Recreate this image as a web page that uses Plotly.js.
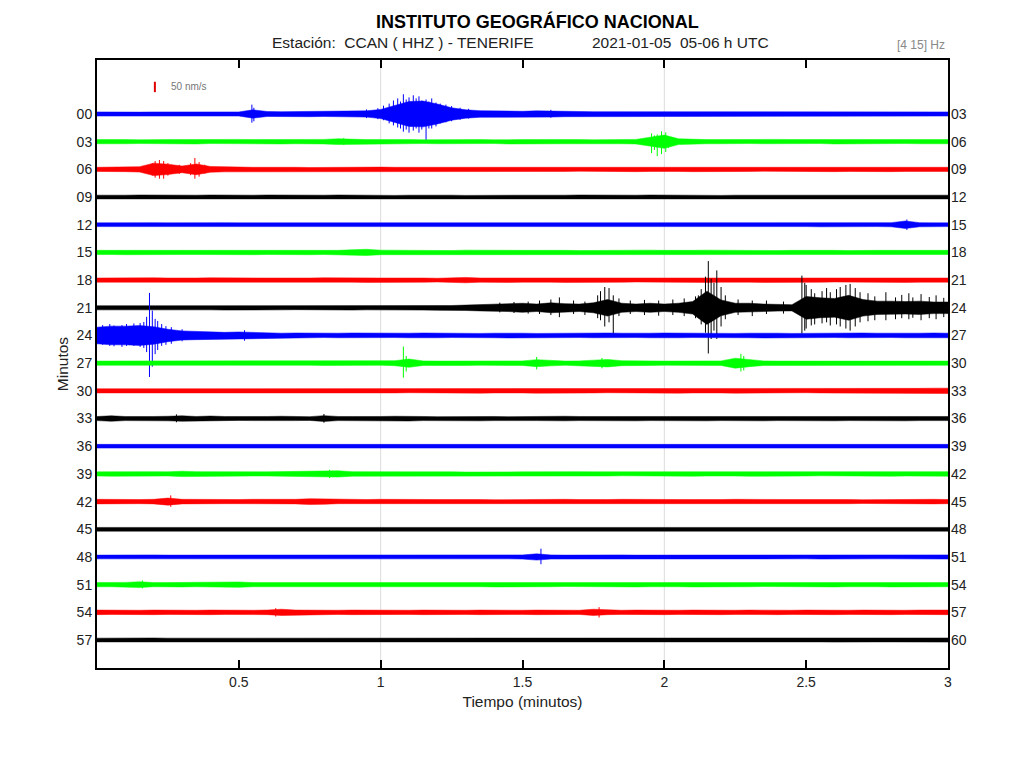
<!DOCTYPE html>
<html><head><meta charset="utf-8">
<script src="https://cdn.plot.ly/plotly-3.0.1.min.js"></script>
<style>html,body{margin:0;padding:0;background:#fff}#chart{width:1025px;height:768px}</style>
</head><body><div id="chart"></div>
<script>
// ---- data ----
const times = [0,0.05,0.1,0.15,0.2,0.25,0.3,0.35,0.4,0.45,0.5,0.55,0.6,0.65,0.7,0.75,0.8,0.85,0.9,0.95,1,1.05,1.1,1.15,1.2,1.25,1.3,1.35,1.4,1.45,1.5,1.55,1.6,1.65,1.7,1.75,1.8,1.85,1.9,1.95,2,2.05,2.1,2.15,2.2,2.25,2.3,2.35,2.4,2.45,2.5,2.55,2.6,2.65,2.7,2.75,2.8,2.85,2.9,2.95,3];
const rowMinutes = [0,3,6,9,12,15,18,21,24,27,30,33,36,39,42,45,48,51,54,57];
const leftLabels = ["00","03","06","09","12","15","18","21","24","27","30","33","36","39","42","45","48","51","54","57"];
const rightLabels = ["03","06","09","12","15","18","21","24","27","30","33","36","39","42","45","48","51","54","57","60"];
const xTicks = [0.5,1,1.5,2,2.5,3];
const xTickText = ["0.5","1","1.5","2","2.5","3"];
const minuteMarks = [1,2];
const scaleBarNms = 50;

// half-amplitude envelope per row (nm/s), one value per entry of times
const amp00 = [10,9,10,9,10,10,9,10,10,10,10,20,12,11,12,13,12,13,13,15,22,40,60,62,48,30,20,16,14,13,13,15,15,13,12,11,11,10,11,10,11,10,10,11,10,10,10,11,10,10,10,10,10,10,11,10,10,10,10,10,10];
const amp03 = [10,11,10,9,11,10,10,11,9,10,11,10,10,11,10,9,11,14,11,10,10,11,10,9,10,11,10,10,9,11,10,10,11,10,10,9,11,10,11,20,32,14,11,10,10,11,9,10,11,10,10,9,11,10,10,11,10,9,10,11,10];
const amp06 = [10,10,11,13,30,25,16,26,14,12,11,10,10,11,10,9,10,11,10,10,11,10,10,9,11,10,10,11,10,9,10,11,10,10,9,11,10,10,11,10,9,10,11,10,10,11,10,9,10,11,10,10,11,10,9,10,11,10,10,9,10];
const amp09 = [9,8,9,10,9,8,9,9,10,9,8,9,10,9,9,8,9,10,9,9,9,8,9,10,9,9,8,9,9,10,9,9,8,9,10,9,9,8,9,10,9,9,10,9,8,9,9,10,9,9,8,9,9,10,9,9,8,9,10,9,9];
const amp12 = [9,10,9,9,10,9,10,9,9,10,9,9,10,9,10,9,9,10,9,9,10,9,9,10,9,9,10,9,10,9,9,10,9,9,10,9,9,10,9,9,10,9,9,10,9,10,9,9,10,9,9,10,9,9,10,9,10,18,10,9,9];
const amp15 = [10,10,11,10,9,11,10,10,11,10,10,11,10,9,10,11,10,10,13,15,11,10,10,11,10,9,11,10,10,11,10,10,11,10,9,10,11,10,10,11,10,9,10,11,10,10,11,10,9,10,11,10,10,9,11,10,10,11,10,10,10];
const amp18 = [10,11,10,10,11,10,9,10,11,10,10,11,10,10,9,10,11,10,10,11,10,10,11,10,9,10,13,10,10,11,10,9,10,11,10,10,11,10,9,10,11,10,10,11,10,9,10,11,10,10,11,10,9,10,11,10,10,11,10,9,10];
const amp21 = [10,10,11,10,9,10,11,10,10,11,10,10,11,10,9,11,10,10,11,10,10,11,10,11,12,11,13,15,18,18,22,18,24,20,18,24,40,22,18,22,18,22,30,80,38,22,22,18,16,15,55,48,45,60,40,32,32,30,32,28,28];
const amp24 = [40,45,45,48,42,30,22,20,17,15,17,14,12,11,12,11,10,11,12,11,11,10,11,12,11,10,11,10,11,12,11,10,11,11,10,11,12,11,10,11,12,11,10,11,11,10,11,12,11,10,11,11,10,11,12,11,10,11,11,12,11];
const amp27 = [10,10,11,10,9,10,11,10,10,11,10,9,10,11,10,10,11,10,10,11,10,12,20,11,10,10,11,10,9,10,11,17,13,10,11,15,18,12,10,11,10,10,11,10,11,24,17,11,10,10,11,10,9,10,11,10,10,11,10,10,10];
const amp30 = [10,10,11,10,10,11,10,9,10,11,10,10,11,10,9,10,11,10,10,11,10,10,9,10,11,10,10,11,10,9,10,11,10,10,11,10,9,10,11,10,10,11,10,9,10,11,10,10,11,10,9,10,11,10,10,11,10,11,12,13,13];
const amp33 = [10,13,10,9,10,11,13,10,12,10,9,10,10,11,10,9,14,10,10,9,10,11,12,10,9,10,10,11,10,9,10,10,9,11,10,10,9,10,11,10,9,10,10,11,10,9,10,11,10,10,9,10,11,10,10,9,10,11,10,9,10];
const amp36 = [9,9,10,9,9,10,9,9,10,9,10,9,9,10,9,9,10,9,10,9,9,10,9,9,10,9,9,10,9,9,10,9,9,10,9,10,9,9,10,9,9,10,9,9,10,9,10,9,9,10,9,9,10,9,9,10,9,9,10,9,9];
const amp39 = [10,11,10,10,11,10,13,11,10,10,11,10,10,11,10,10,14,15,11,10,10,11,10,10,11,10,9,10,11,10,10,10,11,10,11,10,10,9,10,11,10,10,11,10,9,10,11,10,10,11,10,9,10,11,10,10,11,10,9,10,11];
const amp42 = [11,10,11,10,11,17,11,10,11,10,10,11,10,10,11,14,13,10,11,10,11,10,10,11,10,10,11,10,9,10,11,10,10,11,10,9,10,11,10,10,11,10,10,9,10,11,10,10,11,10,10,11,10,10,9,10,11,10,10,11,10];
const amp45 = [9,9,8,9,10,9,9,8,9,9,10,9,9,8,9,9,10,9,9,8,9,9,10,9,9,8,9,9,10,9,9,8,9,9,10,9,9,8,9,9,10,9,9,8,9,9,10,9,9,8,9,9,10,9,9,8,9,9,10,9,9];
const amp48 = [9,10,9,9,10,9,9,10,9,9,10,9,9,10,9,9,10,9,10,9,9,10,9,9,10,9,9,10,9,9,10,15,10,9,10,9,9,10,9,9,10,9,9,10,9,10,9,9,10,9,9,10,9,9,10,9,9,10,9,9,10];
const amp51 = [10,10,11,14,10,10,11,10,10,11,13,10,10,11,10,9,10,11,10,10,11,10,10,9,10,11,10,10,11,10,10,11,10,9,10,11,10,10,11,10,9,10,11,10,10,11,10,9,10,11,10,10,11,10,9,10,11,10,10,11,10];
const amp54 = [11,10,11,10,11,10,11,10,11,10,11,10,11,15,11,10,11,10,11,10,10,11,10,11,10,11,10,11,10,11,10,11,10,11,10,15,11,10,11,10,11,10,11,10,11,10,11,10,11,10,11,10,11,10,11,10,11,10,11,10,11];
const amp57 = [9,10,9,9,10,9,9,10,9,9,10,9,9,10,9,10,9,9,10,9,9,10,9,9,10,9,10,9,9,10,9,9,10,9,9,10,9,9,10,9,9,10,9,10,9,9,10,9,9,10,9,9,10,9,10,9,9,10,9,9,10];

// sharp peaks: [row index, time (min), up (nm/s), down (nm/s)]
const spikes = [
 [0,0.546,45,42],[0,0.553,30,35],[0,0.95,22,20],[0,0.99,28,25],[0,1.01,40,30],[0,1.03,50,45],[0,1.045,65,55],[0,1.06,75,65],[0,1.07,60,70],[0,1.08,95,85],[0,1.09,70,75],[0,1.10,80,90],[0,1.115,90,80],[0,1.125,75,70],[0,1.135,85,90],[0,1.145,65,75],[0,1.16,70,130],[0,1.17,60,70],[0,1.18,75,70],[0,1.195,55,60],[0,1.21,50,45],[0,1.23,45,40],[0,1.25,38,35],[0,1.28,30,28],[0,1.31,25,22],[0,1.6,20,18],
 [1,0.87,18,16],[1,1.955,40,55],[1,1.965,30,40],[1,1.975,35,70],[1,1.99,50,60],[1,2.005,45,50],[1,2.015,25,30],
 [2,0.195,30,30],[2,0.205,40,40],[2,0.22,45,45],[2,0.235,40,45],[2,0.25,30,30],[2,0.29,22,22],[2,0.33,30,28],[2,0.345,55,45],[2,0.36,35,35],[2,0.38,22,20],
 [4,2.855,25,25],
 [7,1.42,25,22],[7,1.47,28,25],[7,1.52,30,28],[7,1.56,35,30],[7,1.6,40,35],[7,1.63,50,45],[7,1.68,35,30],[7,1.72,30,35],
 [7,1.765,60,50],[7,1.775,80,60],[7,1.79,100,90],[7,1.805,95,70],[7,1.82,60,125],[7,1.84,45,40],
 [7,1.88,35,30],[7,1.93,38,35],[7,1.98,35,38],[7,2.03,40,35],[7,2.07,45,40],
 [7,2.11,55,50],[7,2.12,60,50],[7,2.13,90,80],[7,2.145,150,120],[7,2.155,225,220],[7,2.165,140,150],[7,2.175,120,110],[7,2.185,180,150],[7,2.2,100,90],[7,2.215,60,55],
 [7,2.26,40,35],[7,2.31,35,40],[7,2.36,35,30],[7,2.42,30,28],
 [7,2.485,155,125],[7,2.495,120,110],[7,2.5,110,100],[7,2.518,90,85],[7,2.53,70,80],[7,2.556,80,75],[7,2.572,95,70],[7,2.585,75,85],[7,2.607,90,80],[7,2.62,100,90],[7,2.64,110,100],[7,2.655,115,110],[7,2.673,95,90],[7,2.69,75,70],
 [7,2.718,70,65],[7,2.742,55,60],[7,2.781,75,60],[7,2.815,50,55],[7,2.837,62,50],[7,2.862,70,55],[7,2.876,50,48],[7,2.905,66,60],[7,2.934,52,50],[7,2.958,60,55],[7,2.985,48,45],
 [8,0.02,50,45],[8,0.045,55,50],[8,0.06,48,52],[8,0.088,50,55],[8,0.104,55,50],[8,0.13,58,50],[8,0.152,60,55],[8,0.165,65,60],[8,0.175,90,80],[8,0.185,205,200],[8,0.195,120,150],[8,0.205,80,90],[8,0.214,70,70],[8,0.228,55,50],[8,0.243,45,45],[8,0.262,40,40],[8,0.3,30,28],[8,0.52,25,25],
 [9,1.08,80,70],[9,1.09,35,40],[9,1.55,30,30],[9,1.78,25,25],[9,2.27,45,40],[9,2.28,35,35],
 [11,0.28,20,18],[11,0.8,22,20],[13,0.82,20,20],[14,0.26,30,25],[16,1.565,40,35],[17,0.16,20,18],[18,0.63,20,20],[18,1.77,25,25]
];

// ---- drawing ----
const amps = [amp00,amp03,amp06,amp09,amp12,amp15,amp18,amp21,amp24,amp27,amp30,amp33,amp36,amp39,amp42,amp45,amp48,amp51,amp54,amp57];
const palette = ['#0000ff','#00ff00','#ff0000','#000000'];
const gain = 0.0225;            // y-axis units per nm/s
const yRange = [60.03,-5.85];
const traces = [];

amps.forEach((a, r) => {
  const c = rowMinutes[r];
  const col = palette[r % 4];
  const up = a.map(v => c - v*gain);
  const dn = a.map(v => c + v*gain).reverse();
  traces.push({
    type:'scatter', mode:'lines', x: times.concat(times.slice().reverse()), y: up.concat(dn),
    fill:'toself', fillcolor: col, line:{color: col, width: 0.5},
    hoverinfo:'skip', showlegend:false
  });
  const sx = [], sy = [];
  spikes.filter(s => s[0] === r).forEach(s => {
    sx.push(s[1], s[1], null);
    sy.push(c - s[2]*gain, c + s[3]*gain, null);
  });
  if (sx.length) traces.push({type:'scatter', mode:'lines', x:sx, y:sy, line:{color:col, width:1}, hoverinfo:'skip', showlegend:false});
});

// scale bar
const sbX = 0.204, sbY = -2.93;
traces.push({type:'scatter', mode:'lines', x:[sbX,sbX], y:[sbY - scaleBarNms*gain/2, sbY + scaleBarNms*gain/2],
  line:{color:'#e00000', width:2}, hoverinfo:'skip', showlegend:false});
// dummy trace for right axis
traces.push({type:'scatter', mode:'lines', x:[null], y:[null], yaxis:'y2', hoverinfo:'skip', showlegend:false});

const fontFam = 'Liberation Sans, Arial, Helvetica, sans-serif';
const layout = {
  width:1025, height:768,
  margin:{l:97, r:77, t:60, b:100},
  paper_bgcolor:'#fff', plot_bgcolor:'#fff',
  font:{family:fontFam, size:14, color:'#222'},
  showlegend:false,
  xaxis:{range:[0,3], tickvals:xTicks, ticktext:xTickText, ticks:'inside', ticklen:8, tickwidth:2, tickcolor:'#000',
    showline:true, linecolor:'#000', linewidth:2, mirror:'ticks', showgrid:false, zeroline:false,
    title:{text:'Tiempo (minutos)', standoff:7, font:{size:15.5, color:'#222'}}},
  yaxis:{range:yRange, tickvals:rowMinutes, ticktext:leftLabels, ticks:'', showline:true, linecolor:'#000', linewidth:2,
    mirror:true, showgrid:false, zeroline:false, title:{text:'Minutos', standoff:4, font:{size:15.5, color:'#222'}}},
  yaxis2:{range:yRange, overlaying:'y', side:'right', tickvals:rowMinutes, ticktext:rightLabels, ticks:'',
    showline:false, showgrid:false, zeroline:false, ticklabelstandoff:2},
  shapes: minuteMarks.map(m => ({type:'line', xref:'x', yref:'paper', x0:m, x1:m, y0:0, y1:1, layer:'below',
    line:{color:'#dcdcdc', width:1}})),
  annotations:[
    {text:'<b>INSTITUTO GEOGRÁFICO NACIONAL</b>', xref:'paper', yref:'paper', x:0.518, y:1.064, xanchor:'center', yanchor:'middle',
      showarrow:false, font:{size:18, color:'#000'}},
    {text:'Estación:\u00a0\u00a0CCAN ( HHZ ) - TENERIFE', xref:'paper', yref:'paper', x:0.360, y:1.0296, xanchor:'center', yanchor:'middle',
      showarrow:false, font:{size:15.5, color:'#222'}},
    {text:'2021-01-05\u00a0\u00a005-06 h UTC', xref:'paper', yref:'paper', x:0.686, y:1.0296, xanchor:'center', yanchor:'middle',
      showarrow:false, font:{size:15.5, color:'#222'}},
    {text:'[4 15] Hz', xref:'paper', yref:'paper', x:0.968, y:1.0247, xanchor:'center', yanchor:'middle',
      showarrow:false, font:{size:12, color:'#888'}},
    {text:'50 nm/s', xref:'x', yref:'y', x:0.254, y:sbY, xanchor:'left', yanchor:'middle',
      showarrow:false, font:{size:10, color:'#777'}}
  ]
};

Plotly.newPlot('chart', traces, layout, {staticPlot:true, displayModeBar:false});
</script>
</body></html>
